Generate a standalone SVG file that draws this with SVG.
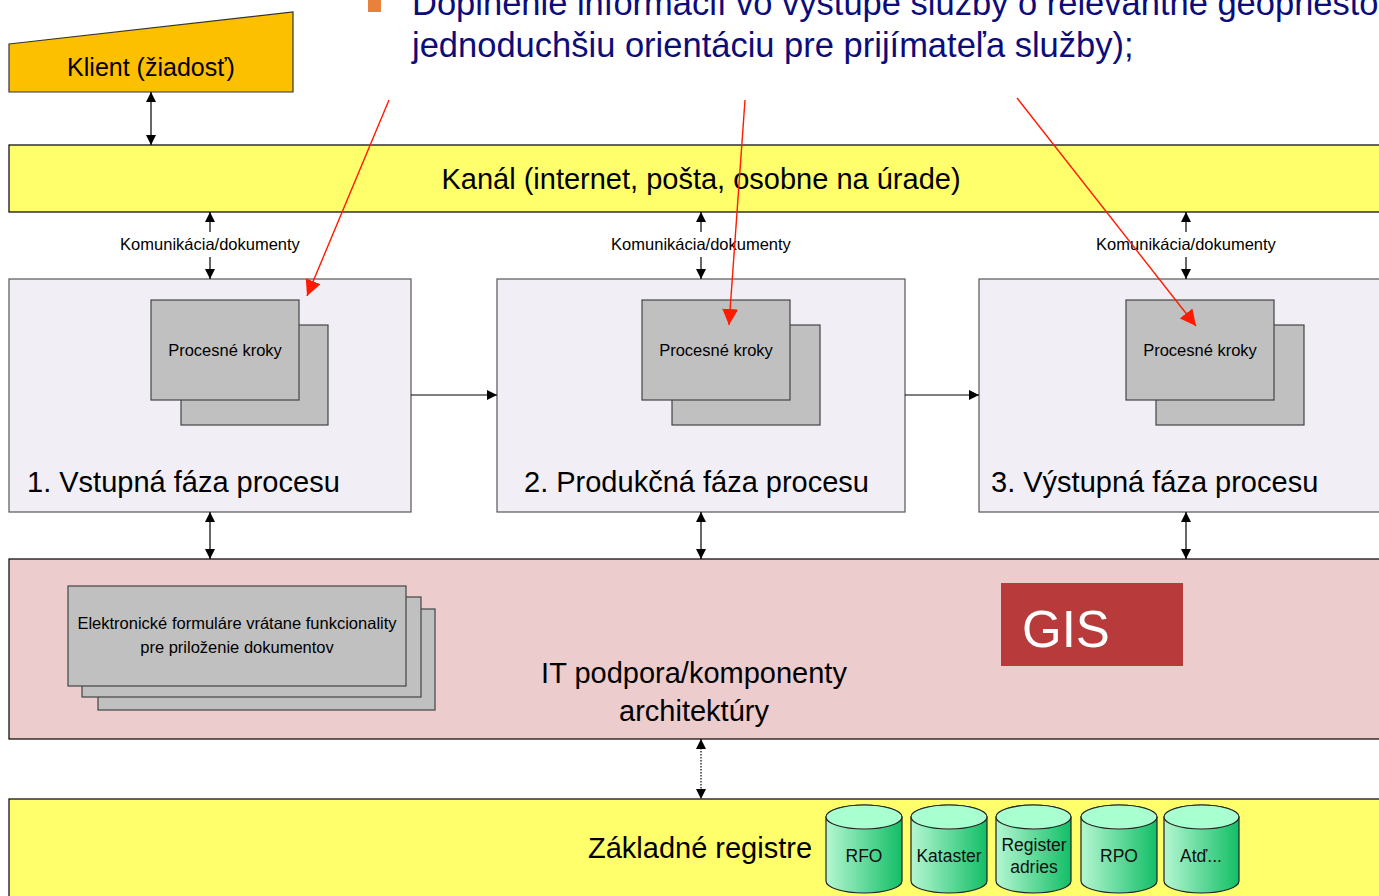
<svg xmlns="http://www.w3.org/2000/svg" width="1379" height="896" viewBox="0 0 1379 896">
<defs>
<style>
text{font-family:"Liberation Sans",Arial,sans-serif;fill:#000}
.box{stroke:#555;stroke-width:1.2}
.phase{fill:#F1EFF5}
.gray{fill:#C0C0C0;stroke:#444;stroke-width:1.2}
.yellow{fill:#FFFF6B;stroke:#000;stroke-width:1.2}
.con{stroke:#000;stroke-width:1.2;fill:none}
.red{stroke:#FF1A00;stroke-width:1.4;fill:none}
.cyl{fill:url(#cg);stroke:#222;stroke-width:1.2}
.cyltop{fill:#A8FFD0;stroke:#222;stroke-width:1.2}
.ctext{font-size:17.5px;text-anchor:middle;fill:#111}
.big{font-size:29px}
.small{font-size:16.5px}
</style>
<linearGradient id="cg" x1="0" y1="0" x2="1" y2="0">
<stop offset="0" stop-color="#B5F7D2"/>
<stop offset="1" stop-color="#12BE66"/>
</linearGradient>
<marker id="ah" viewBox="0 0 10 10" refX="10" refY="5" markerWidth="10" markerHeight="10" markerUnits="userSpaceOnUse" orient="auto-start-reverse"><path d="M0,0 L10,5 L0,10 Z" fill="#000"/></marker>
<marker id="rah" viewBox="0 0 10 10" refX="10" refY="5" markerWidth="16" markerHeight="16" markerUnits="userSpaceOnUse" orient="auto"><path d="M0,0 L10,5 L0,10 Z" fill="#FF1A00"/></marker>
</defs>
<rect width="1379" height="896" fill="#fff"/>

<g id="bullet-text">
<rect x="368" y="0" width="13" height="12" fill="#E8823A"/>
<text x="412" y="15" style="font-size:34.5px;fill:#0C0C7A">Doplnenie informácií vo výstupe služby o relevantné geopriesto</text>
<text x="412" y="57" style="font-size:34.5px;fill:#0C0C7A">jednoduchšiu orientáciu pre prijímateľa služby);</text>
</g>

<g id="klient">
<polygon points="9,44 293,12 293,92 9,92" fill="#FDC000" stroke="#333" stroke-width="1.2"/>
<text x="151" y="76" style="font-size:25px" text-anchor="middle">Klient (žiadosť)</text>
</g>

<g id="kanal">
<rect x="9" y="145" width="1380" height="67" class="yellow"/>
<text x="701" y="189" class="big" text-anchor="middle">Kanál (internet, pošta, osobne na úrade)</text>
</g>

<g id="phase1">
<rect x="9" y="279" width="402" height="233" class="box phase"/>
<rect x="181" y="325" width="147" height="100" class="gray"/>
<rect x="151" y="300" width="148" height="100" class="gray"/>
<text x="225" y="356" class="small" text-anchor="middle">Procesné kroky</text>
<text x="27" y="492" class="big">1. Vstupná fáza procesu</text>
</g>

<g id="phase2">
<rect x="497" y="279" width="408" height="233" class="box phase"/>
<rect x="672" y="325" width="148" height="100" class="gray"/>
<rect x="642" y="300" width="148" height="100" class="gray"/>
<text x="716" y="356" class="small" text-anchor="middle">Procesné kroky</text>
<text x="524" y="492" class="big">2. Produkčná fáza procesu</text>
</g>

<g id="phase3">
<rect x="979" y="279" width="410" height="233" class="box phase"/>
<rect x="1156" y="325" width="148" height="100" class="gray"/>
<rect x="1126" y="300" width="148" height="100" class="gray"/>
<text x="1200" y="356" class="small" text-anchor="middle">Procesné kroky</text>
<text x="991" y="492" class="big">3. Výstupná fáza procesu</text>
</g>

<g id="it">
<rect x="9" y="559" width="1380" height="180" fill="#ECCCCC" stroke="#000" stroke-width="1.2"/>
<rect x="98" y="609" width="337" height="101" class="gray"/>
<rect x="82" y="597" width="339" height="100" class="gray"/>
<rect x="68" y="586" width="338" height="100" class="gray"/>
<text x="237" y="629" class="small" text-anchor="middle">Elektronické formuláre vrátane funkcionality</text>
<text x="237" y="653" class="small" text-anchor="middle">pre priloženie dokumentov</text>
<text x="694" y="683" class="big" text-anchor="middle">IT podpora/komponenty</text>
<text x="694" y="721" class="big" text-anchor="middle">architektúry</text>
</g>

<g id="gis">
<rect x="1001" y="583" width="182" height="83" fill="#B83A3A"/>
<text x="1022" y="647" style="font-size:51px;fill:#fff">GIS</text>
</g>

<g id="registre">
<rect x="9" y="799" width="1380" height="110" class="yellow"/>
<text x="700" y="858" class="big" text-anchor="middle">Základné registre</text>
</g>

<g id="rfo">
<path d="M826,817 A38,12 0 0 1 902,817 V881 A38,12 0 0 1 826,881 Z" class="cyl"/>
<ellipse cx="864" cy="817" rx="38" ry="12" class="cyltop"/>
<text x="864" y="862" class="ctext">RFO</text>
</g>
<g id="kataster">
<path d="M911,817 A38,12 0 0 1 987,817 V881 A38,12 0 0 1 911,881 Z" class="cyl"/>
<ellipse cx="949" cy="817" rx="38" ry="12" class="cyltop"/>
<text x="949" y="862" class="ctext">Kataster</text>
</g>
<g id="adries">
<path d="M996,817 A37.5,12 0 0 1 1071,817 V881 A37.5,12 0 0 1 996,881 Z" class="cyl"/>
<ellipse cx="1033.5" cy="817" rx="37.5" ry="12" class="cyltop"/>
<text x="1034" y="851" class="ctext">Register</text>
<text x="1034" y="873" class="ctext">adries</text>
</g>
<g id="rpo">
<path d="M1081,817 A38,12 0 0 1 1157,817 V881 A38,12 0 0 1 1081,881 Z" class="cyl"/>
<ellipse cx="1119" cy="817" rx="38" ry="12" class="cyltop"/>
<text x="1119" y="862" class="ctext">RPO</text>
</g>
<g id="atd">
<path d="M1164,817 A37.5,12 0 0 1 1239,817 V881 A37.5,12 0 0 1 1164,881 Z" class="cyl"/>
<ellipse cx="1201.5" cy="817" rx="37.5" ry="12" class="cyltop"/>
<text x="1201" y="862" class="ctext">Atď...</text>
</g>

<g id="connectors">
<line x1="151" y1="92" x2="151" y2="145" class="con" marker-start="url(#ah)" marker-end="url(#ah)"/>
<line x1="210" y1="232" x2="210" y2="212" class="con" marker-end="url(#ah)"/>
<line x1="210" y1="257" x2="210" y2="279" class="con" marker-end="url(#ah)"/>
<line x1="701" y1="232" x2="701" y2="212" class="con" marker-end="url(#ah)"/>
<line x1="701" y1="257" x2="701" y2="279" class="con" marker-end="url(#ah)"/>
<line x1="1186" y1="232" x2="1186" y2="212" class="con" marker-end="url(#ah)"/>
<line x1="1186" y1="257" x2="1186" y2="279" class="con" marker-end="url(#ah)"/>
<text x="210" y="250" class="small" text-anchor="middle">Komunikácia/dokumenty</text>
<text x="701" y="250" class="small" text-anchor="middle">Komunikácia/dokumenty</text>
<text x="1186" y="250" class="small" text-anchor="middle">Komunikácia/dokumenty</text>
<line x1="411" y1="395" x2="497" y2="395" class="con" marker-end="url(#ah)"/>
<line x1="905" y1="395" x2="979" y2="395" class="con" marker-end="url(#ah)"/>
<line x1="210" y1="512" x2="210" y2="559" class="con" marker-start="url(#ah)" marker-end="url(#ah)"/>
<line x1="701" y1="512" x2="701" y2="559" class="con" marker-start="url(#ah)" marker-end="url(#ah)"/>
<line x1="1186" y1="512" x2="1186" y2="559" class="con" marker-start="url(#ah)" marker-end="url(#ah)"/>
<line x1="701" y1="739" x2="701" y2="799" class="con" stroke-dasharray="1.5,1.5" marker-start="url(#ah)" marker-end="url(#ah)"/>
<line x1="389" y1="100" x2="307" y2="296" class="red" marker-end="url(#rah)"/>
<line x1="745" y1="100" x2="729" y2="325" class="red" marker-end="url(#rah)"/>
<line x1="1017" y1="98" x2="1196" y2="326" class="red" marker-end="url(#rah)"/>
</g>
</svg>
